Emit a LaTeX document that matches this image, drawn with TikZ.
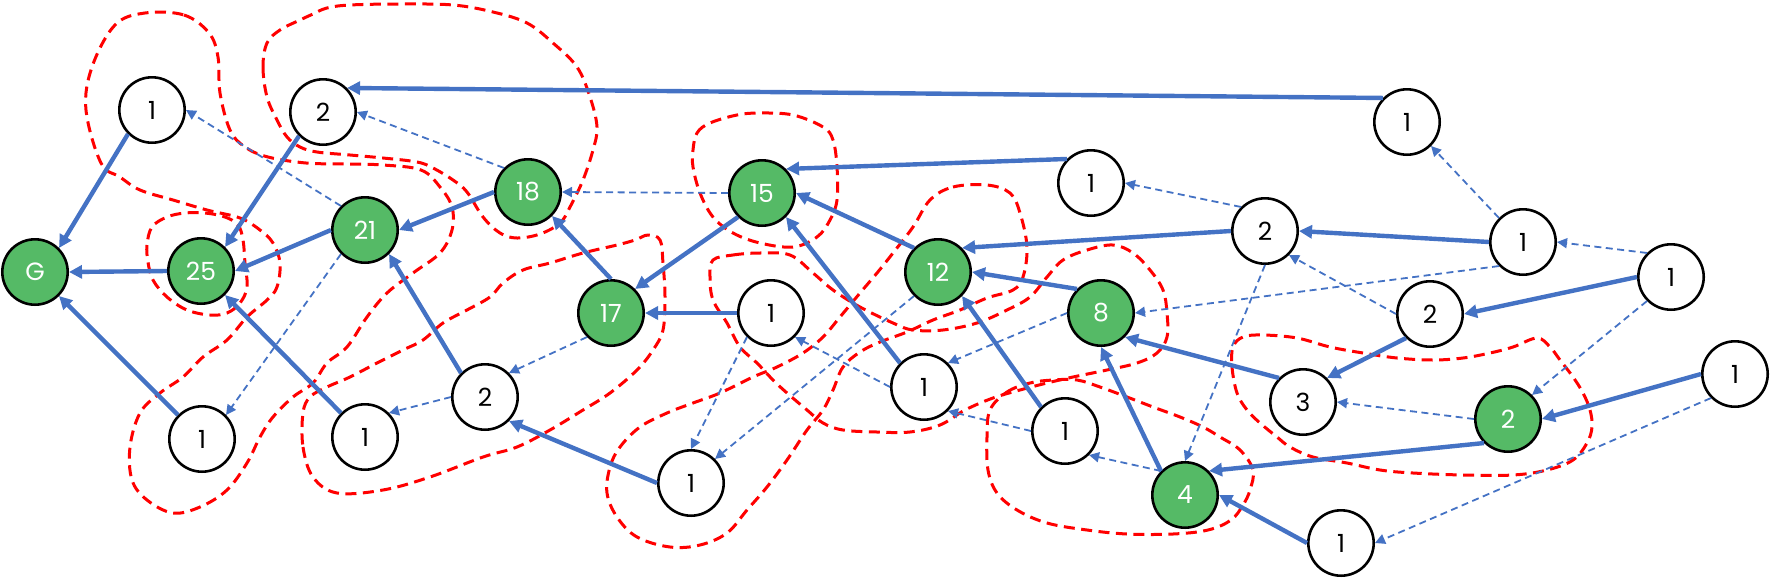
\documentclass[tikz,border=0pt]{standalone}
\usepackage{fontspec}
\setmainfont{Poppins}
\usetikzlibrary{arrows.meta}
\definecolor{eblue}{HTML}{4472C4}
\definecolor{ngreen}{HTML}{55BA66}
\begin{document}
\begin{tikzpicture}[x=1pt,y=-1pt,
  wn/.style={circle, draw=black, line width=2.6pt, fill=white, minimum size=65.4pt, inner sep=0pt, font=\fontsize{25}{25}\selectfont, text=black},
  gn/.style={wn, fill=ngreen, text=white},
  sol/.style={draw=eblue, line width=4.4pt, -{Triangle[length=13pt,width=13pt]}},
  dsh/.style={draw=eblue, line width=1.8pt, dash pattern=on 7pt off 4.5pt, -{Triangle[length=10pt,width=10pt]}},
  blob/.style={draw=red, line width=3pt, dash pattern=on 11pt off 6.5pt}
]
\useasboundingbox (0,0) rectangle (1771,579);

% red cluster outlines
\draw[blob] plot[smooth cycle, tension=0.6] coordinates {(145,13) (184,15) (209,33) (218,57) (220,93) (230,130) (245,147) (268,157) (306,163) (345,164) (383,165) (421,170) (440,187) (452,207) (452,230) (440,253) (413,273) (387,293) (367,317) (347,347) (327,363) (313,383) (293,397) (273,417) (260,437) (247,463) (227,490) (200,507) (173,513) (147,500) (132,480) (130,447) (140,413) (160,393) (183,377) (203,357) (227,340) (247,317) (267,300) (277,287) (280,263) (273,243) (260,230) (240,218) (207,210) (173,200) (140,190) (120,177) (101,163) (86,110) (92,67) (115,25)};
\draw[blob] plot[smooth cycle, tension=0.6] coordinates {(267,43) (263,67) (267,97) (277,120) (287,137) (300,147) (317,152) (350,155) (383,158) (417,162) (433,168) (453,180) (467,192) (483,217) (500,233) (517,238) (540,234) (560,223) (570,207) (583,180) (593,150) (597,127) (590,97) (577,67) (553,43) (527,23) (493,12) (453,5) (400,4) (350,5) (327,8) (313,14) (300,20) (280,30)};
\draw[blob] plot[smooth cycle, tension=0.6] coordinates {(152,227) (147,245) (148,262) (153,280) (167,297) (187,310) (210,315) (227,313) (240,303) (247,287) (245,263) (243,240) (238,225) (225,217) (205,213) (185,213) (167,217)};
\draw[blob] plot[smooth cycle, tension=0.6] coordinates {(303,413) (303,447) (313,477) (337,493) (383,490) (430,477) (483,457) (517,447) (550,430) (583,410) (610,393) (637,370) (653,350) (663,330) (665,297) (663,263) (660,240) (648,235) (635,240) (617,245) (583,253) (550,263) (523,270) (503,283) (490,297) (467,310) (443,323) (423,340) (403,350) (377,363) (350,377) (327,387) (310,397)};
\draw[blob] plot[smooth cycle, tension=0.6] coordinates {(693,150) (697,133) (710,123) (737,115) (760,113) (793,115) (823,127) (833,140) (837,167) (837,200) (830,220) (817,237) (793,247) (760,243) (733,233) (713,217) (700,193) (693,167)};
\draw[blob] plot[smooth cycle, tension=0.6] coordinates {(713,260) (733,255) (760,253) (790,255) (813,273) (833,290) (860,307) (893,323) (913,330) (943,330) (977,323) (1007,310) (1030,297) (1047,277) (1063,260) (1087,250) (1113,245) (1133,253) (1150,270) (1163,290) (1167,313) (1167,337) (1157,353) (1137,363) (1107,370) (1073,377) (1047,383) (1020,390) (993,398) (965,410) (940,425) (910,432) (877,432) (843,430) (823,423) (807,410) (787,393) (773,380) (757,363) (740,347) (727,323) (713,300) (710,277)};
\draw[blob] plot[smooth cycle, tension=0.6] coordinates {(930,200) (953,187) (987,185) (1010,193) (1020,213) (1027,247) (1023,277) (1013,290) (987,298) (960,310) (933,320) (907,332) (880,342) (860,352) (843,367) (833,390) (823,410) (807,430) (787,460) (767,487) (747,510) (727,533) (700,545) (670,547) (637,537) (617,517) (607,493) (610,467) (620,447) (640,427) (667,413) (693,403) (720,393) (753,377) (777,367) (803,353) (823,337) (840,317) (860,293) (877,273) (893,253) (913,227)};
\draw[blob] plot[smooth cycle, tension=0.6] coordinates {(990,410) (1007,392) (1030,383) (1053,380) (1077,380) (1100,387) (1127,397) (1153,407) (1180,417) (1203,427) (1220,437) (1240,450) (1253,470) (1250,490) (1243,505) (1231,520) (1208,530) (1173,534) (1127,534) (1087,530) (1047,523) (1017,510) (997,493) (988,470) (987,437)};
\draw[blob] plot[smooth cycle, tension=0.6] coordinates {(1233,347) (1232,367) (1237,393) (1247,410) (1260,423) (1277,437) (1290,447) (1313,457) (1347,463) (1380,470) (1413,473) (1463,475) (1513,475) (1547,470) (1573,460) (1587,443) (1592,427) (1590,410) (1583,393) (1573,377) (1560,360) (1550,347) (1537,338) (1513,347) (1490,353) (1463,358) (1433,360) (1397,358) (1363,353) (1330,347) (1297,338) (1263,335) (1243,337)};

% nodes
\node[gn] (G)   at (35,272)   {G};
\node[gn] (g25) at (201,271)  {25};
\node[gn] (g21) at (365,230)  {21};
\node[gn] (g18) at (528,192)  {18};
\node[gn] (g15) at (762,193)  {15};
\node[gn] (g17) at (611,313)  {17};
\node[gn] (g12) at (938,272)  {12};
\node[gn] (g8)  at (1101,313) {8};
\node[gn] (g4)  at (1185,495) {4};
\node[gn] (g2)  at (1508,419) {2};
\node[wn] (n1)  at (152,110)  {1};
\node[wn] (n2)  at (323,112)  {2};
\node[wn] (n3)  at (202,439)  {1};
\node[wn] (n4)  at (365,437)  {1};
\node[wn] (n5)  at (485,397)  {2};
\node[wn] (n6)  at (691,483)  {1};
\node[wn] (n7)  at (771,313)  {1};
\node[wn] (n8)  at (924,387)  {1};
\node[wn] (n9)  at (1065,431) {1};
\node[wn] (n10) at (1091,183) {1};
\node[wn] (n11) at (1407,122) {1};
\node[wn] (n12) at (1265,231) {2};
\node[wn] (n13) at (1523,242) {1};
\node[wn] (n14) at (1671,277) {1};
\node[wn] (n15) at (1430,314) {2};
\node[wn] (n16) at (1303,402) {3};
\node[wn] (n17) at (1735,374) {1};
\node[wn] (n18) at (1341,543) {1};

% solid edges
\draw[sol] (n1.225) -- (G.45);
\draw[sol] (n2.225) -- (g25.45);
\draw[sol] (g25.180) -- (G.0);
\draw[sol] (g21.180) -- (g25.0);
\draw[sol] (g18.180) -- (g21.0);
\draw[sol] (n3.135) -- (G.-45);
\draw[sol] (n4.135) -- (g25.-45);
\draw[sol] (n5.135) -- (g21.-45);
\draw[sol] (n11.135) -- (n2.45);
\draw[sol] (g17.90) -- (g18.-45);
\draw[sol] (g15.225) -- (g17.45);
\draw[sol] (n7.180) -- (g17.0);
\draw[sol] (n6.180) -- (n5.-45);
\draw[sol] (n10.135) -- (g15.45);
\draw[sol] (g12.135) -- (g15.0);
\draw[sol] (n8.135) -- (g15.-45);
\draw[sol] (n12.180) -- (g12.45);
\draw[sol] (g8.135) -- (g12.0);
\draw[sol] (n9.135) -- (g12.-45);
\draw[sol] (n16.135) -- (g8.-45);
\draw[sol] (g4.135) -- (g8.-90);
\draw[sol] (n13.180) -- (n12.0);
\draw[sol] (n14.180) -- (n15.0);
\draw[sol] (n15.225) -- (n16.45);
\draw[sol] (n17.180) -- (g2.0);
\draw[sol] (g2.225) -- (g4.45);
\draw[sol] (n18.180) -- (g4.0);

% dashed edges
\draw[dsh] (g21.135) -- (n1.0);
\draw[dsh] (g18.135) -- (n2.0);
\draw[dsh] (g15.180) -- (g18.0);
\draw[dsh] (g21.225) -- (n3.45);
\draw[dsh] (n5.180) -- (n4.45);
\draw[dsh] (g17.225) -- (n5.45);
\draw[dsh] (n7.225) -- (n6.90);
\draw[dsh] (g12.225) -- (n6.45);
\draw[dsh] (n8.180) -- (n7.-45);
\draw[dsh] (g8.180) -- (n8.45);
\draw[dsh] (n9.180) -- (n8.-45);
\draw[dsh] (g4.135) -- (n9.-45);
\draw[dsh] (n12.135) -- (n10.0);
\draw[dsh] (n13.135) -- (n11.-45);
\draw[dsh] (n14.135) -- (n13.0);
\draw[dsh] (n13.225) -- (g8.0);
\draw[dsh] (n12.270) -- (g4.90);
\draw[dsh] (n15.180) -- (n12.-45);
\draw[dsh] (n14.225) -- (g2.45);
\draw[dsh] (g2.180) -- (n16.0);
\draw[dsh] (n17.225) -- (n18.0);
\end{tikzpicture}
\end{document}
